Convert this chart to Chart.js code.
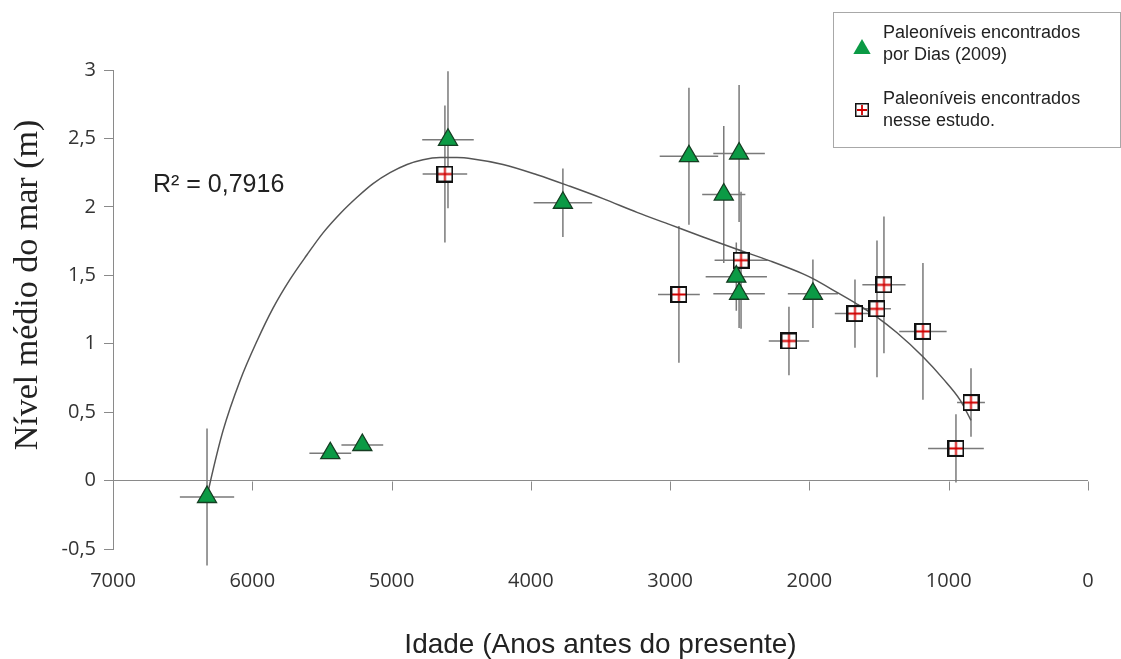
<!DOCTYPE html>
<html lang="pt">
<head>
<meta charset="utf-8">
<title>Nível médio do mar</title>
<script src="https://cdn.jsdelivr.net/npm/chart.js@4.4.1/dist/chart.umd.min.js"></script>
<style>
  html, body { margin: 0; padding: 0; background: #fff; }
</style>
</head>
<body>
<canvas id="nivelChart" width="1121" height="659"></canvas>
<script>
// Paleoníveis encontrados por Dias (2009)
const diasIdade = [6325, 5440, 5210, 4595, 3770, 2865, 2505, 2615, 2525, 2505, 1975];
const diasNivel = [-0.12, 0.20, 0.26, 2.49, 2.03, 2.37, 2.39, 2.09, 1.49, 1.365, 1.365];
const diasErroIdade = [195, 150, 150, 185, 210, 210, 185, 155, 220, 185, 180];
const diasErroNivel = [0.5, 0, 0, 0.5, 0.25, 0.5, 0.5, 0.5, 0.25, 0.25, 0.25];

// Paleoníveis encontrados nesse estudo
const estudoIdade = [4617, 2937, 2491, 2147, 1673, 1515, 1465, 1185, 840, 948];
const estudoNivel = [2.24, 1.36, 1.61, 1.02, 1.22, 1.255, 1.43, 1.09, 0.57, 0.235];
const estudoErroIdade = [160, 150, 190, 145, 145, 100, 155, 170, 100, 200];
const estudoErroNivel = [0.5, 0.5, 0.5, 0.25, 0.25, 0.5, 0.5, 0.5, 0.25, 0.25];

// linha de tendência
const tendenciaIdade = [6325, 6304, 6210, 6088, 5966, 5851, 5729, 5607, 5492, 5370, 5248, 5133, 5011, 4889,
  4774, 4652, 4530, 4415, 4200, 3956, 3719, 3482, 3238, 3001, 2764, 2520, 2283, 2046, 1975, 1802, 1659,
  1515, 1371, 1185, 1041, 919, 840];
const tendenciaNivel = [-0.12, -0.02, 0.365, 0.73, 1.02, 1.26, 1.47, 1.65, 1.81, 1.95, 2.07, 2.17, 2.25, 2.31,
  2.345, 2.36, 2.36, 2.35, 2.31, 2.235, 2.15, 2.06, 1.96, 1.87, 1.78, 1.69, 1.605, 1.51, 1.475, 1.375, 1.29,
  1.195, 1.08, 0.905, 0.745, 0.59, 0.44];
const r2Texto = 'R² = 0,7916';

const xTicks = [7000, 6000, 5000, 4000, 3000, 2000, 1000, 0];
const yTicks = [-0.5, 0, 0.5, 1, 1.5, 2, 2.5, 3];

const toPoints = (xs, ys) => xs.map((x, i) => ({ x: x, y: ys[i] }));

// marcador quadrado com cruz vermelha
function squareMarker(size, line) {
  const c = document.createElement('canvas');
  c.width = size;
  c.height = size;
  const g = c.getContext('2d');
  g.fillStyle = '#fff';
  g.fillRect(1, 1, size - 2, size - 2);
  g.strokeStyle = '#d00000';
  g.lineWidth = 1.8;
  g.beginPath();
  g.moveTo(size / 2, 2); g.lineTo(size / 2, size - 2);
  g.moveTo(2, size / 2); g.lineTo(size - 2, size / 2);
  g.stroke();
  g.strokeStyle = '#111';
  g.lineWidth = line;
  g.strokeRect(line / 2, line / 2, size - line, size - line);
  return c;
}
const squareImg = squareMarker(17, 2);
const squareLegend = squareMarker(14, 1.5);

const GREEN = '#0b9a45';
const ERR = '#7a7a7a';

function drawTriangle(ctx, x, y, r, stroke) {
  ctx.beginPath();
  ctx.moveTo(x, y - r);
  ctx.lineTo(x + r * 0.866, y + r / 2);
  ctx.lineTo(x - r * 0.866, y + r / 2);
  ctx.closePath();
  ctx.fillStyle = GREEN;
  ctx.fill();
  if (stroke) {
    ctx.strokeStyle = stroke;
    ctx.lineWidth = 1.2;
    ctx.stroke();
  }
}

const extras = {
  id: 'extras',
  beforeDatasetsDraw(chart) {
    const ctx = chart.ctx;
    const xs = chart.scales.x, ys = chart.scales.y;
    ctx.save();
    // marcas do eixo x sobre a linha do zero
    ctx.strokeStyle = '#8a8a8a';
    ctx.lineWidth = 1;
    const y0 = Math.round(ys.getPixelForValue(0)) + 0.5;
    xTicks.forEach(v => {
      if (v === 7000) return;
      const px = Math.round(xs.getPixelForValue(v)) + 0.5;
      ctx.beginPath();
      ctx.moveTo(px, y0);
      ctx.lineTo(px, y0 + 9);
      ctx.stroke();
    });
    // barras de erro
    ctx.strokeStyle = ERR;
    ctx.lineWidth = 1.5;
    const bars = (xv, yv, xe, ye) => {
      xv.forEach((x, i) => {
        const px = xs.getPixelForValue(x), py = ys.getPixelForValue(yv[i]);
        ctx.beginPath();
        ctx.moveTo(xs.getPixelForValue(x - xe[i]), py);
        ctx.lineTo(xs.getPixelForValue(x + xe[i]), py);
        if (ye[i] > 0) {
          ctx.moveTo(px, ys.getPixelForValue(yv[i] - ye[i]));
          ctx.lineTo(px, ys.getPixelForValue(yv[i] + ye[i]));
        }
        ctx.stroke();
      });
    };
    bars(diasIdade, diasNivel, diasErroIdade, diasErroNivel);
    bars(estudoIdade, estudoNivel, estudoErroIdade, estudoErroNivel);
    ctx.restore();
  },
  afterDraw(chart) {
    const ctx = chart.ctx;
    const area = chart.chartArea;
    ctx.save();
    // título do eixo y
    ctx.translate(37, 285);
    ctx.rotate(-Math.PI / 2);
    ctx.font = '34px "Liberation Serif", "Times New Roman", serif';
    ctx.fillStyle = '#222';
    ctx.textAlign = 'center';
    ctx.textBaseline = 'alphabetic';
    ctx.fillText('Nível médio do mar (m)', 0, 0);
    ctx.restore();

    ctx.save();
    // R²
    ctx.font = '25px "Liberation Sans", Arial, sans-serif';
    ctx.fillStyle = '#222';
    ctx.textBaseline = 'alphabetic';
    ctx.fillText(r2Texto, area.left + 40, 192);

    // legenda
    const lx = 833, ly = 12, lw = chart.width - 1 - lx, lh = 135;
    ctx.fillStyle = '#fff';
    ctx.fillRect(lx, ly, lw, lh);
    ctx.strokeStyle = '#a8a8a8';
    ctx.lineWidth = 1;
    ctx.strokeRect(lx + 0.5, ly + 0.5, lw, lh);
    drawTriangle(ctx, 862, 49, 10, null);
    ctx.drawImage(squareLegend, 862 - 7, 110 - 7);
    ctx.font = '18px "Liberation Sans", Arial, sans-serif';
    ctx.fillStyle = '#222';
    ctx.fillText('Paleoníveis encontrados', 883, 38);
    ctx.fillText('por Dias (2009)', 883, 60);
    ctx.fillText('Paleoníveis encontrados', 883, 104);
    ctx.fillText('nesse estudo.', 883, 126);
    ctx.restore();
  }
};

const ctx = document.getElementById('nivelChart').getContext('2d');
const nivelChart = new Chart(ctx, {
  type: 'scatter',
  data: {
    datasets: [
      {
        label: 'Paleoníveis encontrados por Dias (2009)',
        data: toPoints(diasIdade, diasNivel),
        pointStyle: 'triangle',
        pointRadius: 11,
        backgroundColor: GREEN,
        borderColor: '#153d22',
        borderWidth: 1.3,
        order: 0
      },
      {
        label: 'Paleoníveis encontrados nesse estudo.',
        data: toPoints(estudoIdade, estudoNivel),
        pointStyle: squareImg,
        pointRadius: 8,
        order: 1
      },
      {
        label: 'Tendência',
        data: toPoints(tendenciaIdade, tendenciaNivel),
        showLine: true,
        pointRadius: 0,
        borderColor: '#555',
        borderWidth: 1.5,
        cubicInterpolationMode: 'monotone',
        fill: false,
        order: 2
      }
    ]
  },
  options: {
    responsive: false,
    animation: false,
    events: [],
    layout: { padding: { top: 70, right: 33, bottom: 0, left: 0 } },
    plugins: {
      legend: { display: false },
      tooltip: { enabled: false }
    },
    scales: {
      x: {
        type: 'linear',
        position: 'bottom',
        reverse: true,
        min: 0,
        max: 7000,
        afterBuildTicks: s => { s.ticks = xTicks.map(v => ({ value: v })); },
        afterFit: s => { s.height = 110; },
        grid: { display: false, drawTicks: false },
        border: { display: false },
        ticks: {
          padding: 20,
          color: '#333',
          font: { family: '"Open Sans", sans-serif', size: 20 },
          maxRotation: 0,
          callback: v => String(v)
        },
        title: {
          display: true,
          text: 'Idade (Anos antes do presente)',
          color: '#222',
          font: { family: '"Liberation Sans", Arial, sans-serif', size: 28, lineHeight: 1 },
          padding: { top: 0, bottom: 0 }
        }
      },
      y: {
        type: 'linear',
        min: -0.5,
        max: 3,
        afterBuildTicks: s => { s.ticks = yTicks.map(v => ({ value: v })); },
        afterFit: s => { s.width = 113; },
        grid: {
          color: c => (c.tick && c.tick.value === 0 ? '#8a8a8a' : 'rgba(0,0,0,0)'),
          tickColor: '#8a8a8a',
          tickLength: 9,
          lineWidth: 1
        },
        border: { display: true, color: '#8a8a8a', width: 1 },
        ticks: {
          padding: 8,
          color: '#333',
          font: { family: '"Open Sans", sans-serif', size: 20 },
          callback: v => String(v).replace('.', ',')
        }
      }
    }
  },
  plugins: [extras]
});
</script>
</body>
</html>
